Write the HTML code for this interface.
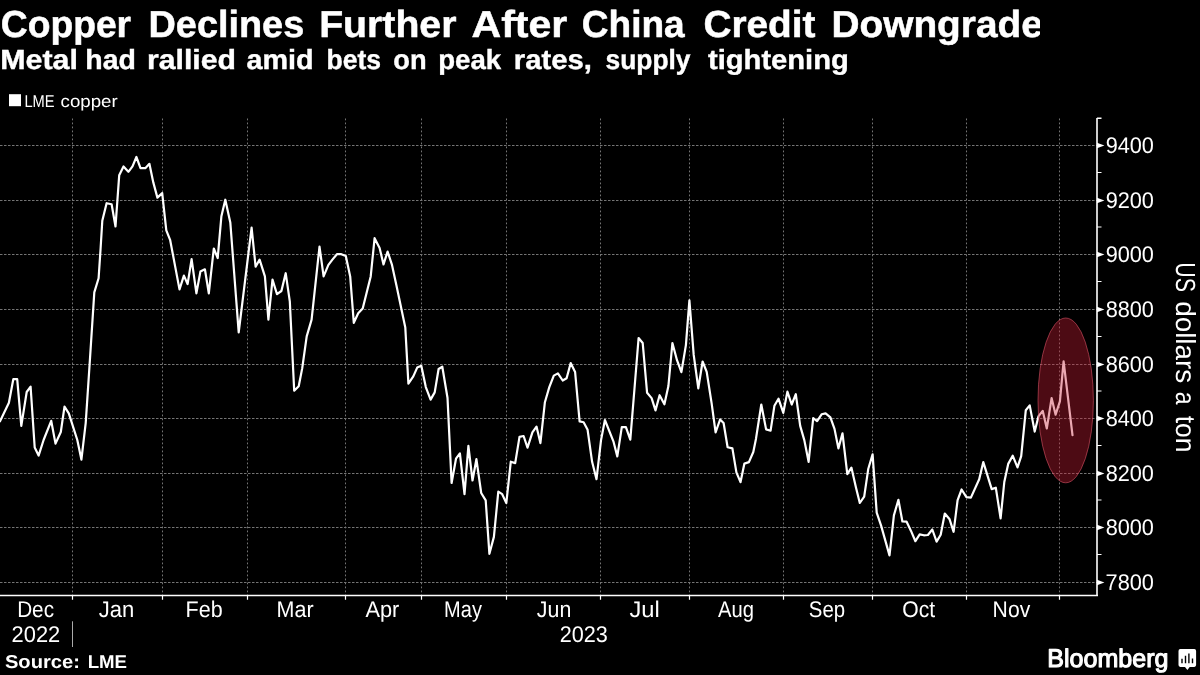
<!DOCTYPE html>
<html><head><meta charset="utf-8"><title>Copper</title>
<style>html,body{margin:0;padding:0;background:#000;overflow:hidden}svg{display:block;will-change:transform}text{font-family:"Liberation Sans",sans-serif;fill:#fff;text-rendering:geometricPrecision}</style></head>
<body>
<svg width="1200" height="675" viewBox="0 0 1200 675">
<rect width="1200" height="675" fill="#000"/>
<clipPath id="tc"><rect x="0" y="0" width="1040" height="48"/></clipPath>
<g clip-path="url(#tc)">
<text transform="translate(0.80 37) scale(0.9908 1)" font-size="37.6" font-weight="bold" stroke="#fff" stroke-width="0.5">Copper</text>
<text transform="translate(148.53 37) scale(1.0072 1)" font-size="37.6" font-weight="bold" stroke="#fff" stroke-width="0.5">Declines</text>
<text transform="translate(319.14 37) scale(1.0440 1)" font-size="37.6" font-weight="bold" stroke="#fff" stroke-width="0.5">Further</text>
<text transform="translate(471.51 37) scale(1.0929 1)" font-size="37.6" font-weight="bold" stroke="#fff" stroke-width="0.5">After</text>
<text transform="translate(581.81 37) scale(0.9857 1)" font-size="37.6" font-weight="bold" stroke="#fff" stroke-width="0.5">China</text>
<text transform="translate(703.44 37) scale(1.0320 1)" font-size="37.6" font-weight="bold" stroke="#fff" stroke-width="0.5">Credit</text>
<text transform="translate(831.46 37) scale(1.0328 1)" font-size="37.6" font-weight="bold" stroke="#fff" stroke-width="0.5">Downgrade</text>
</g>
<text transform="translate(0.32 69) scale(1.0962 1)" font-size="27.7" font-weight="bold" stroke="#fff" stroke-width="0.4">Metal</text>
<text transform="translate(85.35 69) scale(1.0270 1)" font-size="27.7" font-weight="bold" stroke="#fff" stroke-width="0.4">had</text>
<text transform="translate(147.00 69) scale(1.0896 1)" font-size="27.7" font-weight="bold" stroke="#fff" stroke-width="0.4">rallied</text>
<text transform="translate(246.43 69) scale(1.0386 1)" font-size="27.7" font-weight="bold" stroke="#fff" stroke-width="0.4">amid</text>
<text transform="translate(326.56 69) scale(0.9582 1)" font-size="27.7" font-weight="bold" stroke="#fff" stroke-width="0.4">bets</text>
<text transform="translate(393.23 69) scale(0.9848 1)" font-size="27.7" font-weight="bold" stroke="#fff" stroke-width="0.4">on</text>
<text transform="translate(438.17 69) scale(0.9968 1)" font-size="27.7" font-weight="bold" stroke="#fff" stroke-width="0.4">peak</text>
<text transform="translate(513.76 69) scale(1.0568 1)" font-size="27.7" font-weight="bold" stroke="#fff" stroke-width="0.4">rates,</text>
<text transform="translate(605.53 69) scale(0.9527 1)" font-size="27.7" font-weight="bold" stroke="#fff" stroke-width="0.4">supply</text>
<text transform="translate(707.99 69) scale(1.0525 1)" font-size="27.7" font-weight="bold" stroke="#fff" stroke-width="0.4">tightening</text>
<text transform="translate(24.45 107) scale(0.8623 1)" font-size="17.0">LME</text>
<text transform="translate(60.55 107) scale(1.0983 1)" font-size="17.0">copper</text>
<text transform="translate(17.15 617) scale(0.9133 1)" font-size="22.7">Dec</text>
<text transform="translate(98.80 617) scale(0.9717 1)" font-size="22.7">Jan</text>
<text transform="translate(185.59 617) scale(0.9462 1)" font-size="22.7">Feb</text>
<text transform="translate(276.59 617) scale(0.9483 1)" font-size="22.7">Mar</text>
<text transform="translate(365.49 617) scale(0.9591 1)" font-size="22.7">Apr</text>
<text transform="translate(444.11 617) scale(0.8813 1)" font-size="22.7">May</text>
<text transform="translate(536.82 617) scale(0.9428 1)" font-size="22.7">Jun</text>
<text transform="translate(629.47 617) scale(1.0457 1)" font-size="22.7">Jul</text>
<text transform="translate(718.11 617) scale(0.8893 1)" font-size="22.7">Aug</text>
<text transform="translate(808.87 617) scale(0.8985 1)" font-size="22.7">Sep</text>
<text transform="translate(902.28 617) scale(0.9297 1)" font-size="22.7">Oct</text>
<text transform="translate(992.62 617) scale(0.9318 1)" font-size="22.7">Nov</text>
<text transform="translate(11.62 642) scale(0.9631 1)" font-size="22.7">2022</text>
<text transform="translate(559.63 642) scale(0.9531 1)" font-size="22.7">2023</text>
<text transform="translate(1105.67 153.0) scale(0.9561 1)" font-size="22.7">9400</text>
<text transform="translate(1105.67 208.0) scale(0.9561 1)" font-size="22.7">9200</text>
<text transform="translate(1105.67 262.0) scale(0.9561 1)" font-size="22.7">9000</text>
<text transform="translate(1105.72 317.0) scale(0.9549 1)" font-size="22.7">8800</text>
<text transform="translate(1105.72 372.0) scale(0.9549 1)" font-size="22.7">8600</text>
<text transform="translate(1105.72 426.0) scale(0.9549 1)" font-size="22.7">8400</text>
<text transform="translate(1105.72 481.0) scale(0.9549 1)" font-size="22.7">8200</text>
<text transform="translate(1105.72 535.0) scale(0.9549 1)" font-size="22.7">8000</text>
<text transform="translate(1105.62 590.0) scale(0.9570 1)" font-size="22.7">7800</text>
<text transform="translate(4.93 668) scale(1.0829 1)" font-size="18.6" font-weight="bold">Source:</text>
<text transform="translate(87.68 668) scale(1.0034 1)" font-size="18.6" font-weight="bold">LME</text>
<text transform="translate(1047.26 667) scale(0.9794 1)" font-size="25.6" stroke="#fff" stroke-width="1.1" stroke-linejoin="round">Bloomberg</text>
<text transform="translate(1175.9 262.37) rotate(90) scale(0.7761 1)" font-size="27.6">US</text>
<text transform="translate(1175.9 301.14) rotate(90) scale(1.0109 1)" font-size="27.6">dollars</text>
<text transform="translate(1175.9 391.68) rotate(90) scale(0.8385 1)" font-size="27.6">a</text>
<text transform="translate(1175.9 415.65) rotate(90) scale(0.9576 1)" font-size="27.6">ton</text>
<rect x="9" y="94.2" width="12" height="12" fill="#fff"/>
<path d="M72.5 118.5V595.5M162.5 118.5V595.5M247.5 118.5V595.5M345.5 118.5V595.5M421.5 118.5V595.5M506.5 118.5V595.5M600.5 118.5V595.5M689.5 118.5V595.5M783.5 118.5V595.5M872.5 118.5V595.5M966.5 118.5V595.5M1059.5 118.5V595.5" stroke="#747474" stroke-width="1" stroke-dasharray="1.8 2.2" fill="none"/>
<path d="M0 145.5H1097.0M0 200.5H1097.0M0 254.5H1097.0M0 309.5H1097.0M0 364.5H1097.0M0 418.5H1097.0M0 473.5H1097.0M0 527.5H1097.0M0 582.5H1097.0" stroke="#747474" stroke-width="1" stroke-dasharray="2.5 1.5" fill="none"/>
<path d="M0.0 421.3 L8.9 402.7 L13.3 379.2 L17.2 379.2 L21.3 425.8 L26.7 392.0 L30.6 386.7 L34.7 447.5 L38.6 455.6 L43.6 440.0 L51.2 420.8 L55.5 443.6 L60.8 432.0 L64.5 406.6 L68.8 413.3 L77.3 440.0 L81.4 459.6 L85.7 423.1 L89.9 360.0 L94.3 292.4 L98.6 278.2 L100.5 250.0 L102.3 220.7 L106.6 203.2 L111.6 204.3 L115.5 226.5 L119.2 175.3 L123.5 166.4 L128.4 171.8 L132.5 166.4 L136.4 157.0 L140.5 168.2 L145.3 168.2 L149.4 163.8 L153.3 182.4 L157.4 197.6 L162.2 193.1 L166.3 230.4 L170.2 240.2 L179.5 289.4 L183.9 275.6 L187.6 284.1 L191.6 259.2 L196.4 293.3 L200.4 271.6 L204.9 269.3 L208.8 293.3 L213.8 248.5 L217.7 258.1 L221.4 216.2 L225.3 199.7 L230.3 222.4 L238.7 332.4 L251.6 227.6 L255.6 266.7 L259.6 259.6 L264.9 276.4 L268.4 319.6 L272.5 279.6 L277.0 294.2 L281.4 291.0 L285.7 273.2 L289.8 301.3 L294.2 390.7 L298.7 386.2 L302.2 368.4 L306.7 336.4 L311.6 319.6 L319.5 246.6 L323.6 276.4 L328.4 264.9 L332.4 259.6 L336.9 254.2 L341.3 254.2 L345.8 256.0 L350.2 276.4 L353.8 322.8 L358.2 313.3 L362.7 308.5 L370.7 276.4 L374.6 238.2 L379.6 248.0 L383.5 264.4 L387.6 251.6 L392.0 264.9 L396.4 285.3 L405.3 327.6 L408.4 383.6 L413.3 376.4 L417.2 367.6 L421.3 365.8 L425.8 387.1 L430.6 399.6 L434.7 392.4 L438.6 369.0 L442.3 366.7 L447.5 397.8 L451.6 483.0 L456.0 458.7 L459.9 453.3 L464.5 494.2 L468.4 445.9 L472.5 480.5 L476.4 459.2 L481.2 493.0 L485.7 500.4 L489.4 553.8 L493.9 536.9 L498.3 491.6 L502.2 494.2 L506.3 503.1 L510.8 461.7 L515.2 463.1 L519.5 436.9 L523.6 436.0 L527.5 447.6 L532.4 432.4 L536.5 426.6 L540.4 443.1 L544.9 402.2 L549.3 387.1 L553.8 375.6 L557.9 373.4 L562.7 380.5 L566.6 378.2 L570.7 363.1 L575.1 372.0 L579.6 421.4 L583.6 422.3 L587.6 429.8 L592.1 461.8 L596.5 479.2 L601.0 440.4 L604.9 420.0 L613.4 441.3 L617.3 456.4 L621.8 427.1 L625.9 427.1 L630.3 439.6 L634.7 386.0 L638.6 338.0 L642.7 343.0 L647.1 392.8 L651.6 398.1 L655.5 410.4 L659.6 395.2 L664.4 404.3 L668.4 386.0 L672.4 343.0 L677.0 360.2 L681.4 372.1 L685.9 345.1 L689.4 300.3 L693.7 354.9 L698.3 388.3 L702.6 361.5 L706.7 371.8 L711.6 403.1 L715.6 432.4 L720.1 419.5 L723.6 423.0 L727.6 447.2 L732.4 448.4 L736.4 472.4 L740.5 482.2 L744.4 463.6 L748.9 462.1 L753.3 452.0 L756.0 438.7 L761.3 404.5 L766.1 429.4 L770.6 430.7 L774.4 405.8 L778.5 398.7 L783.3 412.9 L787.4 391.6 L791.7 404.5 L795.8 394.2 L800.2 425.9 L804.3 440.1 L808.6 461.8 L813.2 418.2 L817.1 421.2 L821.6 414.3 L825.6 413.4 L830.4 417.3 L834.5 428.9 L838.4 448.4 L842.5 433.3 L847.3 474.2 L851.4 467.6 L855.9 487.3 L859.8 503.0 L864.2 496.6 L868.3 468.7 L872.6 454.4 L876.7 512.6 L881.1 525.6 L889.5 555.4 L893.9 515.4 L898.4 499.8 L902.4 521.5 L906.5 521.6 L911.0 530.9 L915.4 541.2 L919.7 534.4 L923.8 535.3 L927.9 535.0 L932.3 529.5 L936.6 541.6 L940.7 534.8 L944.8 513.5 L949.6 519.3 L953.6 531.8 L957.6 500.1 L961.6 489.5 L966.4 497.1 L970.9 497.6 L979.2 479.3 L983.3 462.1 L991.7 489.1 L995.8 487.7 L1000.6 518.4 L1004.3 482.0 L1008.2 463.9 L1012.7 455.7 L1017.5 467.4 L1021.2 456.2 L1025.8 410.2 L1029.7 405.4 L1034.7 431.6 L1038.6 416.1 L1042.7 410.8 L1046.8 428.5 L1051.6 398.1 L1055.6 414.7 L1059.9 401.3 L1063.6 361.3 L1072.5 435.1" stroke="#fff" stroke-width="2.2" fill="none" stroke-linejoin="round" stroke-linecap="round"/>
<ellipse cx="1065.7" cy="400.4" rx="27.7" ry="82.4" fill="rgba(200,28,52,0.385)" stroke="rgba(230,90,110,0.55)" stroke-width="1"/>
<path d="M0 595.5H1098.0M1097.0 118.0V596.2M1097.0 118.3H1101.5" stroke="#fff" stroke-width="1.6" fill="none"/>
<path d="M72.5 595.5V599.8M162.5 595.5V599.8M247.5 595.5V599.8M345.5 595.5V599.8M421.5 595.5V599.8M506.5 595.5V599.8M600.5 595.5V599.8M689.5 595.5V599.8M783.5 595.5V599.8M872.5 595.5V599.8M966.5 595.5V599.8M1059.5 595.5V599.8" stroke="#fff" stroke-width="1.2" fill="none"/>
<path d="M1097.0 142.7L1104.4 145.5L1097.0 148.3ZM1097.0 197.7L1104.4 200.5L1097.0 203.3ZM1097.0 251.7L1104.4 254.5L1097.0 257.3ZM1097.0 306.7L1104.4 309.5L1097.0 312.3ZM1097.0 361.7L1104.4 364.5L1097.0 367.3ZM1097.0 415.7L1104.4 418.5L1097.0 421.3ZM1097.0 470.7L1104.4 473.5L1097.0 476.3ZM1097.0 524.7L1104.4 527.5L1097.0 530.3ZM1097.0 579.7L1104.4 582.5L1097.0 585.3Z" fill="#fff"/>
<path d="M1097.0 172.5H1101.5M1097.0 227.0H1101.5M1097.0 281.5H1101.5M1097.0 336.5H1101.5M1097.0 391.0H1101.5M1097.0 445.5H1101.5M1097.0 500.0H1101.5M1097.0 554.5H1101.5" stroke="#fff" stroke-width="1.2" fill="none"/>
<path d="M72.5 621.3V647" stroke="#aaa" stroke-width="1" fill="none"/>
<path d="M1180.3 649.1H1194.3Q1196.1 649.1 1196.1 650.9V665.1Q1196.1 666.9 1194.3 666.9H1189.7L1187.4 670L1185 666.9H1180.3Q1178.5 666.9 1178.5 665.1V650.9Q1178.5 649.1 1180.3 649.1Z" fill="#fff"/>
<path d="M1182 658.7V663.3M1185.5 655.8V663.3M1188.9 653.5V663.3M1192.5 658.4V663.3" stroke="#000" stroke-width="1.4" fill="none"/>
</svg></body></html>
